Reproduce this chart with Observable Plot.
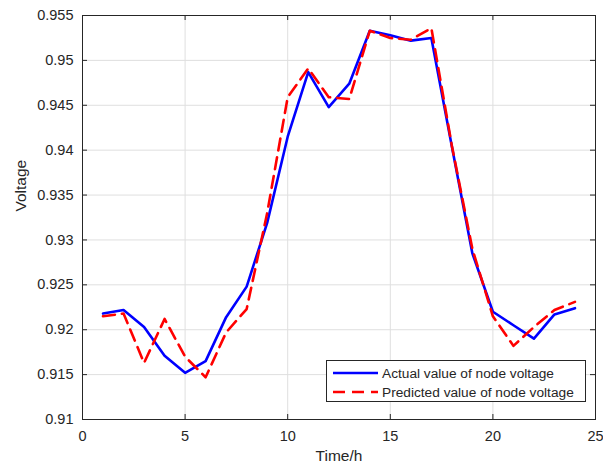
<!DOCTYPE html>
<html>
<head>
<meta charset="utf-8">
<script src="https://cdn.jsdelivr.net/npm/d3@7"></script>
<script src="https://cdn.jsdelivr.net/npm/@observablehq/plot@0.6"></script>
<style>
  html, body { margin: 0; padding: 0; background: #fff; }
  #wrap { position: relative; width: 603px; height: 470px; }
  #legend {
    position: absolute; left: 326px; top: 360px; width: 260px; height: 42px;
    background: #fff; border: 1px solid #262626; box-sizing: border-box;
    font-family: "Liberation Sans", Arial, sans-serif; font-size: 13.7px; color: #262626;
  }
  .row { position: absolute; left: 5px; height: 16px; display: flex; align-items: center; }
  .row svg { display: block; }
  .row span { margin-left: 3px; white-space: nowrap; }
</style>
</head>
<body>
<div id="wrap"></div>
<script>
const hours = [1,2,3,4,5,6,7,8,9,10,11,12,13,14,15,16,17,18,19,20,21,22,23,24];
const actual = [0.9218, 0.9222, 0.9203, 0.9171, 0.9152, 0.9165, 0.9214, 0.9248, 0.9319, 0.9415, 0.9487, 0.9448,
                0.9474, 0.9533, 0.9528, 0.9522, 0.9525, 0.9404, 0.9285, 0.9220, 0.9205, 0.9190, 0.9217, 0.9224];
const predicted = [0.9215, 0.9218, 0.9163, 0.9212, 0.9170, 0.9147, 0.9197, 0.9223, 0.9330, 0.9459, 0.9491, 0.9459,
                   0.9457, 0.9533, 0.9525, 0.9523, 0.9536, 0.9405, 0.9290, 0.9215, 0.9182, 0.9203, 0.9222, 0.9231];
const xTicks = [0, 5, 10, 15, 20, 25];
const yTicks = [0.91, 0.915, 0.92, 0.925, 0.93, 0.935, 0.94, 0.945, 0.95, 0.955];
const seriesNames = ["Actual value of node voltage", "Predicted value of node voltage"];

const actualData = hours.map((h, i) => ({h, v: actual[i]}));
const predData = hours.map((h, i) => ({h, v: predicted[i]}));

const ink = "#262626";
const chart = Plot.plot({
  width: 603, height: 470,
  marginLeft: 82, marginRight: 8, marginTop: 15, marginBottom: 51,
  style: {fontFamily: "'Liberation Sans', Arial, sans-serif", fontSize: "14.5px", color: ink, background: "#fff"},
  x: {domain: [0, 25]},
  y: {domain: [0.91, 0.955]},
  marks: [
    Plot.gridX(xTicks, {stroke: "#dfdfdf", strokeOpacity: 1}),
    Plot.gridY(yTicks, {stroke: "#dfdfdf", strokeOpacity: 1}),
    Plot.line(actualData, {x: "h", y: "v", stroke: "#0000ff", strokeWidth: 2.6}),
    Plot.line(predData, {x: "h", y: "v", stroke: "#ff0000", strokeWidth: 2.6, strokeDasharray: "12,7"}),
    Plot.tickX(xTicks, {x: d => d, stroke: ink, insetTop: 399}),
    Plot.tickX(xTicks, {x: d => d, stroke: ink, insetBottom: 399}),
    Plot.tickY(yTicks, {y: d => d, stroke: ink, insetRight: 508}),
    Plot.tickY(yTicks, {y: d => d, stroke: ink, insetLeft: 508}),
    Plot.frame({stroke: ink}),
    Plot.axisX({ticks: xTicks, tickSize: 0, tickPadding: 11, label: null, fontSize: 14.5, tickFormat: d => String(d)}),
    Plot.axisY({ticks: yTicks, tickSize: 0, tickPadding: 9, label: null, fontSize: 14.5, tickFormat: d => String(+d.toFixed(3))}),
    Plot.text(["Time/h"], {frameAnchor: "bottom", dy: 41, fontSize: 15.5, fill: ink}),
    Plot.text(["Voltage"], {frameAnchor: "left", dx: -61, dy: -6, rotate: -90, fontSize: 15.5, fill: ink})
  ]
});
const wrap = document.getElementById("wrap");
wrap.appendChild(chart);

// Legend
const legend = document.createElement("div");
legend.id = "legend";
const styles = [{stroke: "#0000ff", dash: null}, {stroke: "#ff0000", dash: "12,7"}];
seriesNames.forEach((name, i) => {
  const row = document.createElement("div");
  row.className = "row";
  row.style.top = (4 + i * 19) + "px";
  const s = d3.create("svg").attr("width", 47).attr("height", 16);
  s.append("line").attr("x1", 1).attr("x2", 46).attr("y1", 8).attr("y2", 8)
    .attr("stroke", styles[i].stroke).attr("stroke-width", 2.6)
    .attr("stroke-dasharray", styles[i].dash);
  row.appendChild(s.node());
  const t = document.createElement("span");
  t.textContent = name;
  row.appendChild(t);
  legend.appendChild(row);
});
wrap.appendChild(legend);
</script>
</body>
</html>
